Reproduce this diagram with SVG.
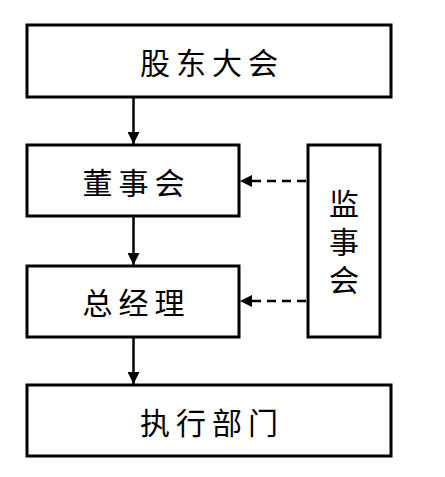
<svg xmlns="http://www.w3.org/2000/svg" width="445" height="477" viewBox="0 0 445 477">
<style>
.box{fill:#fff;stroke:#000;stroke-width:3}
.t{font-family:"Noto Sans CJK SC","Noto Sans",sans-serif;font-size:30px;fill:#000;text-anchor:middle;dominant-baseline:central;letter-spacing:6px;font-weight:normal}
.tv{font-family:"Noto Sans CJK SC","Noto Sans",sans-serif;font-size:30px;fill:#000;text-anchor:middle;writing-mode:vertical-rl;letter-spacing:8px;font-weight:normal}
.ln{stroke:#000;stroke-width:2.5;fill:none}
.dash{stroke:#000;stroke-width:2.5;fill:none;stroke-dasharray:9 6}
</style>
<defs>
<marker id="ah" viewBox="0 0 12 12" refX="12" refY="6" markerWidth="12" markerHeight="12" markerUnits="userSpaceOnUse" orient="auto">
<path d="M0,0 L12,6 L0,12 Z" fill="#000"/>
</marker>
</defs>
<g id="n1"><rect class="box" x="27" y="25" width="364" height="72"/><text class="t" x="212" y="61">股东大会</text></g>
<g id="n2"><rect class="box" x="27" y="145" width="212" height="71"/><text class="t" x="136.5" y="181">董事会</text></g>
<g id="n3"><rect class="box" x="27" y="266" width="212" height="71"/><text class="t" x="136.5" y="301">总经理</text></g>
<g id="n4"><rect class="box" x="27" y="385" width="364" height="71"/><text class="t" x="212" y="421">执行部门</text></g>
<g id="n5"><rect class="box" x="308" y="145" width="72" height="192"/>
<text class="tv" x="344" y="246">监事会</text></g>
<g id="edges">
<line class="ln" x1="133.5" y1="98" x2="133.5" y2="144" marker-end="url(#ah)"/>
<line class="ln" x1="133.5" y1="217" x2="133.5" y2="265" marker-end="url(#ah)"/>
<line class="ln" x1="133.5" y1="338" x2="133.5" y2="384" marker-end="url(#ah)"/>
<line class="dash" x1="306" y1="181" x2="251" y2="181"/>
<path d="M252,175 L240,181 L252,187 Z" fill="#000"/>
<line class="dash" x1="306" y1="301" x2="251" y2="301"/>
<path d="M252,295 L240,301 L252,307 Z" fill="#000"/>
</g>
</svg>
